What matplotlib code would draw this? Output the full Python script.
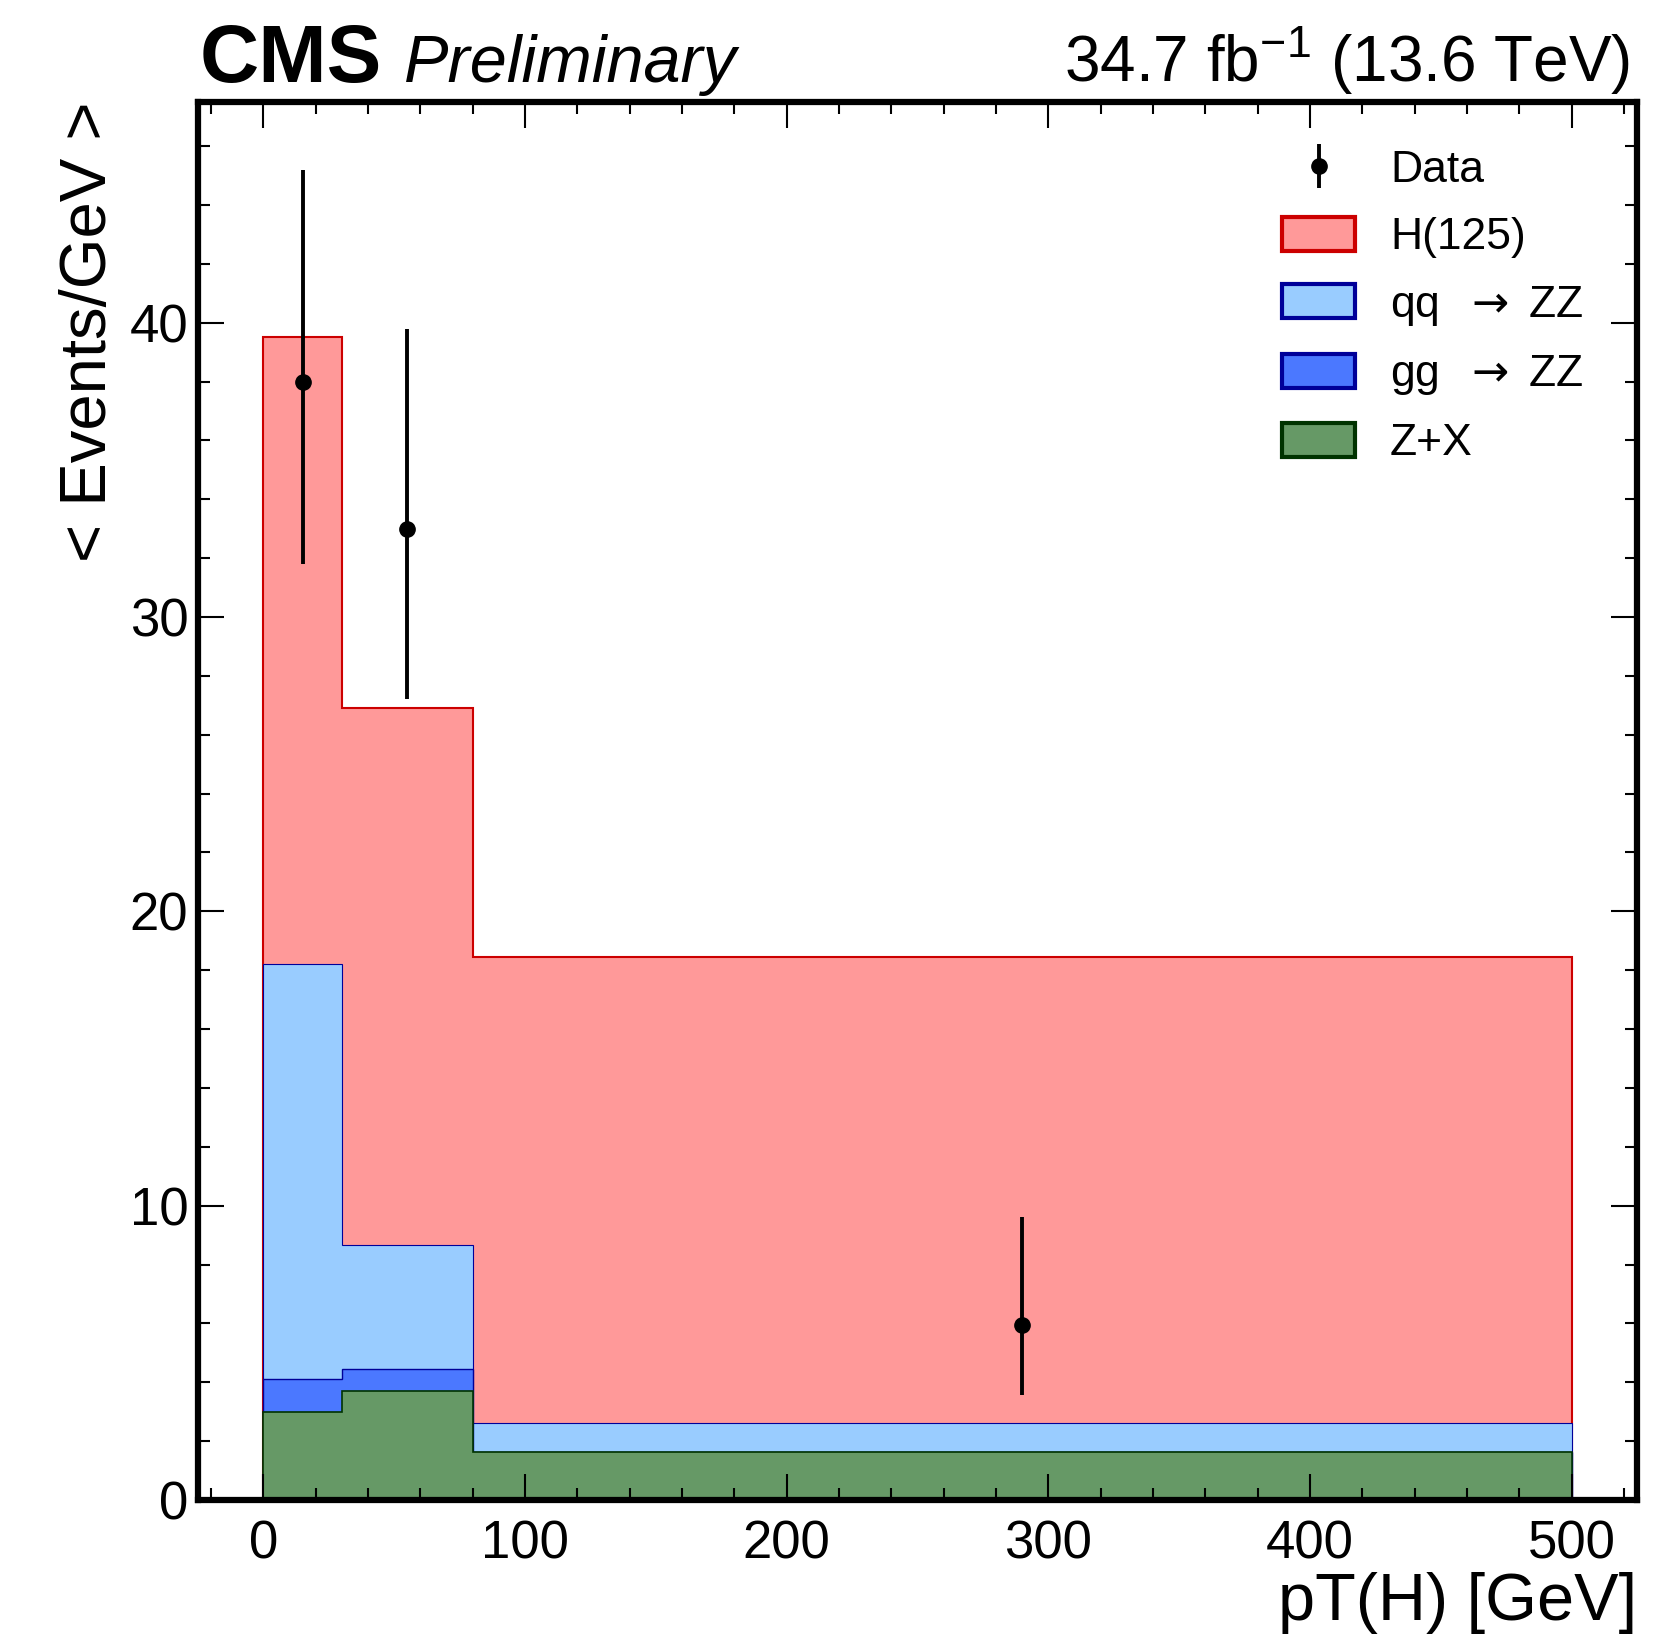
import numpy as np
import matplotlib
matplotlib.use('Agg')
import matplotlib.pyplot as plt
from matplotlib.patches import Patch
from matplotlib.ticker import MultipleLocator

plt.rcParams['font.family'] = ['Liberation Sans', 'DejaVu Sans']
plt.rcParams['mathtext.fontset'] = 'custom'
plt.rcParams['mathtext.rm'] = 'Liberation Sans'
plt.rcParams['mathtext.it'] = 'Liberation Sans:italic'
plt.rcParams['mathtext.sf'] = 'DejaVu Sans'

# Histogram bins (pT(H) in GeV) and per-process yields (events/GeV)
bin_edges = [0, 30, 80, 500]
zx = [3.0, 3.7, 1.62]
ggzz = [1.1, 0.75, 0.02]
qqzz = [14.1, 4.2, 0.96]
h125 = [21.3, 18.25, 15.85]

# Data points with asymmetric errors
data_x = [15, 55, 290]
data_y = [38.0, 33.0, 5.95]
data_err_lo = [6.2, 5.8, 2.37]
data_err_hi = [7.2, 6.8, 3.65]

labels = ['Z+X', r'gg  $\mathsf{\rightarrow}$ ZZ', r'qq  $\mathsf{\rightarrow}$ ZZ', 'H(125)']
face_colors = ['#669966', '#4b78ff', '#99ccff', '#ff9999']
edge_colors = ['#003300', '#000099', '#000099', '#cc0000']

fig = plt.figure(figsize=(16.54, 16.42), dpi=100)
ax = fig.add_axes([0.1197, 0.0865, 0.8700, 0.8514])

# stack: cumulative sums, drawn from the top layer down
stack = np.cumsum([zx, ggzz, qqzz, h125], axis=0)
edge_lw = [1.2, 1.0, 0.8, 1.5]
for i in reversed(range(len(stack))):
    ax.stairs(stack[i], bin_edges, baseline=0, fill=True,
              facecolor=face_colors[i], edgecolor='none')
    ax.stairs(stack[i], bin_edges, baseline=0, color=edge_colors[i], lw=edge_lw[i])

data = ax.errorbar(data_x, data_y, yerr=[data_err_lo, data_err_hi], fmt='o',
                   color='black', ms=11, elinewidth=2.8, capsize=0, zorder=5)

ax.set_xlim(-25, 525)
ax.set_ylim(0, 47.5)
ax.xaxis.set_major_locator(MultipleLocator(100))
ax.xaxis.set_minor_locator(MultipleLocator(20))
ax.yaxis.set_major_locator(MultipleLocator(10))
ax.yaxis.set_minor_locator(MultipleLocator(2))
ax.tick_params(which='both', direction='in', top=True, right=True)
ax.tick_params(which='major', length=19, width=1.5, labelsize=38)
ax.tick_params(which='minor', length=8.5, width=1.5)
ax.tick_params(axis='x', pad=14)
ax.tick_params(axis='y', pad=7)
for sp in ax.spines.values():
    sp.set_linewidth(4.5)

ax.set_xlabel('pT(H) [GeV]', fontsize=48, loc='right', labelpad=2)
ax.set_ylabel('< Events/GeV >', fontsize=47, loc='top', labelpad=8)

# header
y_head = 1 - 82 / 1642
fig.text(200 / 1654, y_head, 'CMS', fontsize=59, fontweight='bold', va='baseline', ha='left')
fig.text(404 / 1654, y_head, 'Preliminary', fontsize=48, style='italic', va='baseline', ha='left')
fig.text(1630 / 1654, y_head, '34.7 fb$^{-1}$ (13.6 TeV)', fontsize=46, va='baseline', ha='right')

# legend
handles = [data]
leg_labels = ['Data']
for i in reversed(range(len(stack))):
    handles.append(Patch(facecolor=face_colors[i], edgecolor=edge_colors[i], lw=3))
    leg_labels.append(labels[i])
ax.legend(handles, leg_labels, loc='upper left', bbox_to_anchor=(0.7533, 0.966),
          frameon=False, fontsize=32, handlelength=1.65, handleheight=0.8,
          handletextpad=0.78, labelspacing=0.575, borderpad=0, borderaxespad=0)

fig.savefig('out.png', dpi=100)
